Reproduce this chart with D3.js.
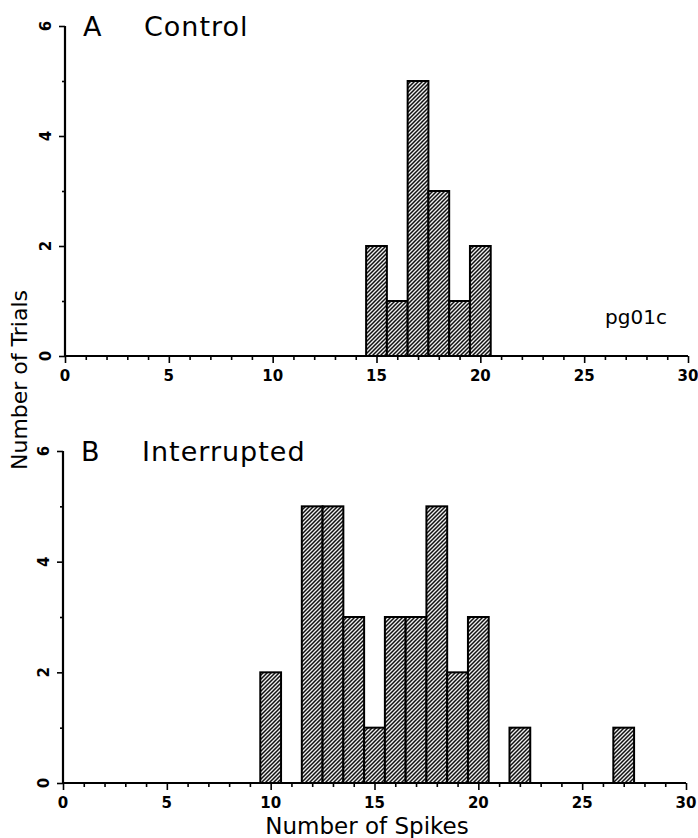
<!DOCTYPE html>
<html>
<head>
<meta charset="utf-8">
<script src="https://cdn.jsdelivr.net/npm/d3@7"></script>
<style>
  body { margin: 0; background: #fff; }
  svg { display: block; font-family: "DejaVu Sans", sans-serif; }
</style>
</head>
<body>
<svg id="chart" width="698" height="838"></svg>
<script>
// histogram counts per spike-count bin
const controlBins = [15, 16, 17, 18, 19, 20],
    controlCounts = [2, 1, 5, 3, 1, 2],
    interruptedBins = [10, 12, 13, 14, 15, 16, 17, 18, 19, 20, 22, 27],
    interruptedCounts = [2, 5, 5, 3, 1, 3, 3, 5, 2, 3, 1, 1],
    xTicks = [0, 5, 10, 15, 20, 25, 30],
    yTicks = [0, 2, 4, 6];

const svg = d3.select("#chart");

// diagonal hatch
const defs = svg.append("defs");
const pat = defs.append("pattern")
    .attr("id", "hatch")
    .attr("patternUnits", "userSpaceOnUse")
    .attr("width", 4).attr("height", 4);
pat.append("rect").attr("width", 4).attr("height", 4).attr("fill", "#eeeeee");
pat.append("path")
    .attr("d", "M-1,1 l2,-2 M0,4 l4,-4 M3,5 l2,-2")
    .attr("stroke", "#111").attr("stroke-width", 1.5);

function panel(cfg) {
    const x = d3.scaleLinear().domain([0, 30]).range([cfg.x0, cfg.x1]),
        y = d3.scaleLinear().domain([0, 6]).range([cfg.y0, cfg.y1]),
        g = svg.append("g");

    const data = cfg.bins.map((b, i) => ({ bin: b, n: cfg.counts[i] }));

    g.selectAll("rect.bar")
        .data(data)
        .enter()
        .append("rect")
        .attr("class", "bar")
        .attr("x", d => x(d.bin - 0.5))
        .attr("width", d => x(d.bin + 0.5) - x(d.bin - 0.5))
        .attr("y", d => y(d.n))
        .attr("height", d => y(0) - y(d.n))
        .attr("fill", "url(#hatch)")
        .attr("stroke", "#000")
        .attr("stroke-width", 2);

    // x axis: major ticks every 5, minor every 1
    const xAxis = g.append("g").attr("transform", `translate(0,${y(0)})`)
        .call(d3.axisBottom(x).tickValues(d3.range(0, 31)).tickSize(4).tickFormat(""));
    xAxis.select(".domain").attr("stroke-width", 2.2).attr("d", `M${x(0)},0H${x(30)}`);
    xAxis.selectAll(".tick line").attr("stroke-width", 1.6)
        .attr("y2", d => d % 5 === 0 ? 7 : 4);
    g.selectAll("text.xl")
        .data(xTicks)
        .enter()
        .append("text")
        .attr("class", "xl")
        .attr("x", d => x(d))
        .attr("y", y(0) + 25)
        .attr("text-anchor", "middle")
        .attr("font-size", 15)
        .attr("font-weight", "bold")
        .text(d => d);

    // y axis
    const yAxis = g.append("g").attr("transform", `translate(${x(0)},0)`)
        .call(d3.axisLeft(y).tickValues(d3.range(0, 7)).tickSize(5).tickFormat(""));
    yAxis.select(".domain").attr("stroke-width", 2.2).attr("d", `M0,${y(0)}V${y(6)}`);
    yAxis.selectAll(".tick line").attr("stroke-width", 1.6)
        .attr("x2", d => d % 2 === 0 ? -6 : -3);
    g.selectAll("text.yl")
        .data(yTicks)
        .enter()
        .append("text")
        .attr("class", "yl")
        .attr("transform", d => `translate(${x(0) - 14},${y(d)}) rotate(-90)`)
        .attr("text-anchor", "middle")
        .attr("font-size", 15)
        .attr("font-weight", "bold")
        .text(d => d);

    g.append("text")
        .attr("x", cfg.x0 + 18).attr("y", y(6) + 10)
        .attr("font-size", 27)
        .text(cfg.letter);
    g.append("text")
        .attr("x", cfg.x0 + 79).attr("y", y(6) + 10)
        .attr("font-size", 27)
        .attr("letter-spacing", 1)
        .text(cfg.title);
    return { x, y, g };
}

const panelA = panel({ x0: 65, x1: 688, y0: 356, y1: 26, bins: controlBins, counts: controlCounts, letter: "A", title: "Control" });
panel({ x0: 63, x1: 686, y0: 783, y1: 451, bins: interruptedBins, counts: interruptedCounts, letter: "B", title: "Interrupted" });

panelA.g.append("text")
    .attr("x", 636).attr("y", 324)
    .attr("text-anchor", "middle")
    .attr("font-size", 20)
    .text("pg01c");

svg.append("text")
    .attr("transform", "translate(27,380) rotate(-90)")
    .attr("text-anchor", "middle")
    .attr("font-size", 22)
    .text("Number of Trials");

svg.append("text")
    .attr("x", 367).attr("y", 834)
    .attr("text-anchor", "middle")
    .attr("font-size", 23)
    .text("Number of Spikes");
</script>
</body>
</html>
